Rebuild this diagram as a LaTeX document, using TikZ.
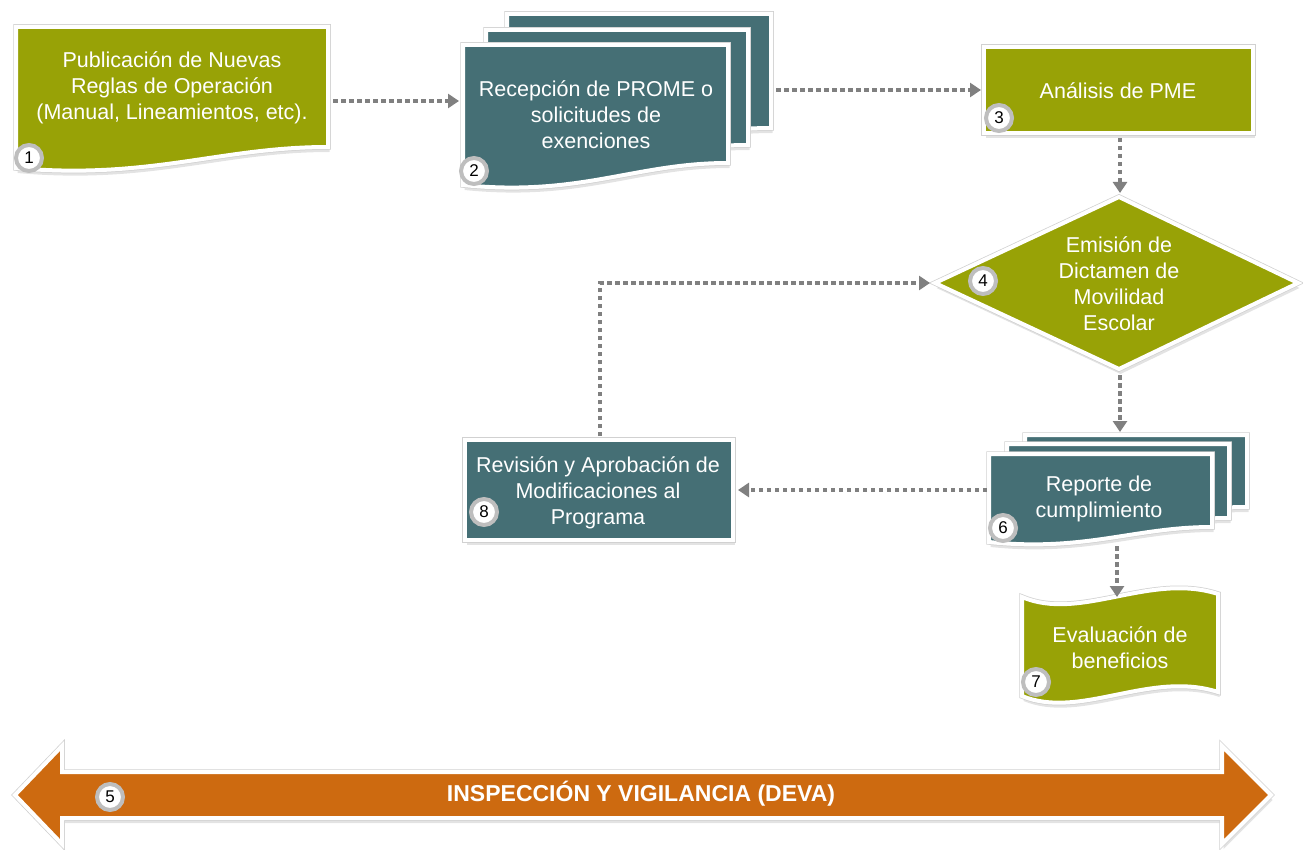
\documentclass[tikz,border=0pt]{standalone}
\usepackage{fontspec}
\setmainfont{Liberation Sans}
\usetikzlibrary{arrows.meta,shadows}
\definecolor{gOlive}{RGB}{152,162,6}
\definecolor{gTeal}{RGB}{69,111,117}
\definecolor{gOrange}{RGB}{205,106,16}
\definecolor{gLine}{RGB}{128,128,128}
\definecolor{gRing}{RGB}{190,190,190}
\tikzset{
  boxshape/.style={draw=white, line width=4pt, line join=miter,
    drop shadow={opacity=0.22, shadow xshift=1.5pt, shadow yshift=-5pt},
    preaction={draw=black!18, line width=5.5pt}},
  txt/.style={text=white, align=center, font=\fontsize{21.5}{26}\selectfont},
  badge/.style={circle, fill=white, draw=gRing, line width=4pt, minimum size=26pt,
    inner sep=0pt, font=\fontsize{17}{17}\selectfont, text=black},
  conn/.style={draw=gLine, line width=4.5pt, dash pattern=on 4.5pt off 3.5pt,
    -{Triangle[length=11pt,width=14pt]}},
}
\begin{document}
\begin{tikzpicture}[x=1pt,y=-1pt]
\useasboundingbox (0,0) rectangle (1303,850);

% ---------- 1 ----------
\filldraw[boxshape, fill=gOlive] (16,27) -- (328,27) -- (328,147)
  .. controls (220,147) and (150,180) .. (16,168) -- cycle;
\node[txt] (n1) at (172,88) {Publicación de Nuevas\\Reglas de Operación\\(Manual, Lineamientos, etc).};
\node[badge] (k1) at (29,158) {1};

% ---------- 2 ----------
\filldraw[boxshape, fill=gTeal] (507,14) -- (771,14) -- (771,128)
  .. controls (680,128) and (620,160) .. (507,150) -- cycle;
\filldraw[boxshape, fill=gTeal] (486,30) -- (748,30) -- (748,145)
  .. controls (655,145) and (600,177) .. (486,167) -- cycle;
\filldraw[boxshape, fill=gTeal] (463,45) -- (728,45) -- (728,163)
  .. controls (635,163) and (580,197) .. (463,185) -- cycle;
\node[txt] (n2) at (596,115) {Recepción de PROME o\\solicitudes de\\exenciones};
\node[badge] (k2) at (474,171) {2};

% ---------- 3 ----------
\filldraw[boxshape, fill=gOlive] (984,47) rectangle (1253,133);
\node[txt] (n3) at (1118,91) {Análisis de PME};
\node[badge] (k3) at (999,118) {3};

% ---------- 4 ----------
\filldraw[boxshape, fill=gOlive] (1119,197) -- (1298,283) -- (1119,369) -- (935,283) -- cycle;
\node[txt] (n4) at (1119,284) {Emisión de\\Dictamen de\\Movilidad\\Escolar};
\node[badge] (k4) at (983,281) {4};

% ---------- 6 ----------
\filldraw[boxshape, fill=gTeal] (1025,435) -- (1247,435) -- (1247,507)
  .. controls (1170,507) and (1120,530) .. (1025,520) -- cycle;
\filldraw[boxshape, fill=gTeal] (1007,444) -- (1229,444) -- (1229,518)
  .. controls (1152,518) and (1100,542) .. (1007,532) -- cycle;
\filldraw[boxshape, fill=gTeal] (989,454) -- (1212,454) -- (1212,527)
  .. controls (1135,527) and (1085,552) .. (989,542) -- cycle;
\node[txt] (n6) at (1099,499) {Reporte de\\cumplimiento};
\node[badge] (k6) at (1003,528) {6};

% ---------- 7 ----------
\filldraw[boxshape, fill=gOlive] (1022,597)
  .. controls (1080,622) and (1150,572) .. (1218,594) -- (1218,692)
  .. controls (1150,670) and (1080,720) .. (1022,696) -- cycle;
\node[txt] (n7) at (1120,648) {Evaluación de\\beneficios};
\node[badge] (k7) at (1036,682) {7};

% ---------- 8 ----------
\filldraw[boxshape, fill=gTeal] (465,440) rectangle (733,540);
\node[txt] (n8) at (598,493) {Revisión y Aprobación de\\Modificaciones al\\Programa};
\node[badge] (k8) at (484,512) {8};

% ---------- 5 big arrow ----------
\filldraw[boxshape, fill=gOrange] (15,795) -- (62,746) -- (62,772) -- (1222,772) -- (1222,746)
  -- (1271,795) -- (1222,844) -- (1222,818) -- (62,818) -- (62,844) -- cycle;
\node[text=white, font=\bfseries\fontsize{23}{26}\selectfont] (n5) at (641,794) {INSPECCIÓN Y VIGILANCIA (DEVA)};
\node[badge] (k5) at (110,797) {5};

% ---------- connector ends ----------
\coordinate (b1r) at (333,101);
\coordinate (b2l) at (459,101);
\coordinate (b2r) at (776,90);
\coordinate (b3l) at (981,90);
\coordinate (b3b) at (1120,138);
\coordinate (d4t) at (1120,193);
\coordinate (d4b) at (1120,375);
\coordinate (b6t) at (1120,432);
\coordinate (b6l) at (987,490);
\coordinate (b8r) at (738,490);
\coordinate (b8t) at (600,436);
\coordinate (d4l) at (930,283);
\coordinate (b6b) at (1117,546);
\coordinate (b7t) at (1117,597);

\draw[conn] (b1r) -- (b2l);
\draw[conn] (b2r) -- (b3l);
\draw[conn] (b3b) -- (d4t);
\draw[conn] (d4b) -- (b6t);
\draw[conn] (b6l) -- (b8r);
\draw[conn] (b8t) |- (d4l);
\draw[conn] (b6b) -- (b7t);
\end{tikzpicture}
\end{document}
